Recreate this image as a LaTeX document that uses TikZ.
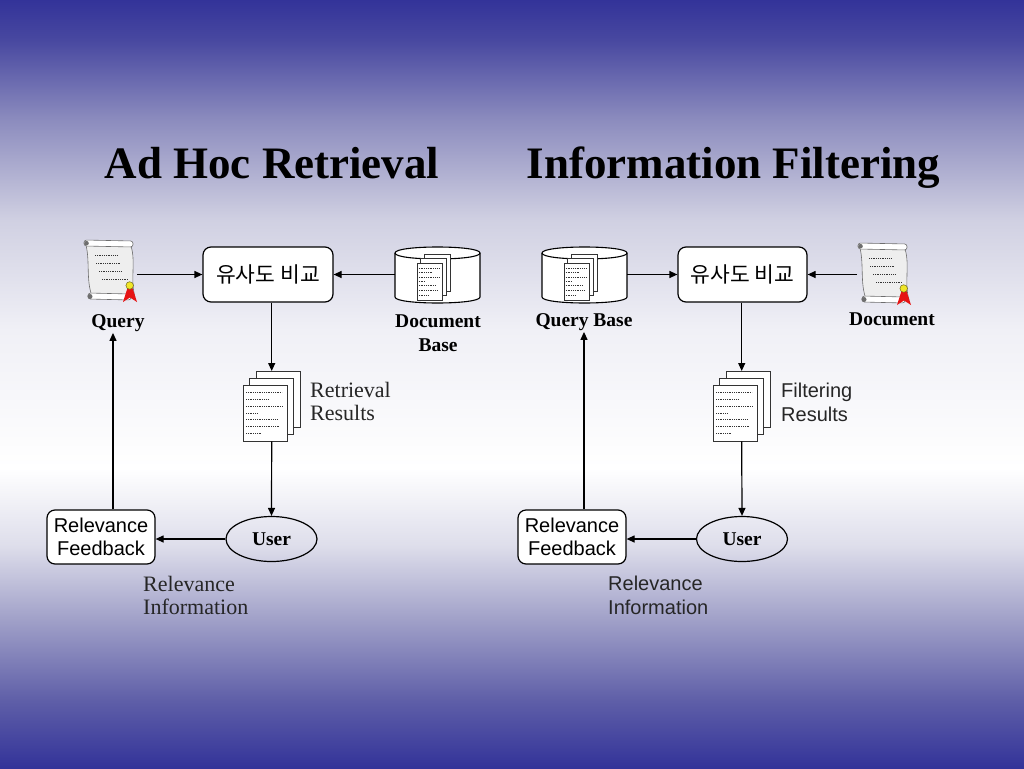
\documentclass[tikz,border=0pt]{standalone}
\usepackage{fontspec}
\setmainfont{Liberation Serif}
\newfontfamily\arialf{Liberation Sans}
\newfontfamily\krf{Noto Sans CJK KR}
\usetikzlibrary{arrows.meta,shapes.geometric,calc}

\definecolor{bgA}{RGB}{51,51,153}
\definecolor{bgB}{RGB}{95,95,168}
\definecolor{bgC}{RGB}{160,160,200}
\definecolor{bgD}{RGB}{222,222,235}
\definecolor{bgE}{RGB}{240,240,246}
\definecolor{bgF}{RGB}{208,208,226}
\definecolor{bgG}{RGB}{140,140,190}
\definecolor{bgH}{RGB}{72,72,160}
\definecolor{scrollfill}{RGB}{238,238,238}
\definecolor{rollgray}{RGB}{110,110,110}
\definecolor{ribbon}{RGB}{230,20,20}
\definecolor{seal}{RGB}{240,230,40}

\pgfdeclareverticalshading{bgshade}{100bp}{color(0bp)=(bgA); color(25bp)=(bgA); color(29.43bp)=(bgB); color(34.64bp)=(bgC); color(39.5bp)=(bgD); color(44.5bp)=(white); color(53.52bp)=(bgE); color(60.68bp)=(bgF); color(67.19bp)=(bgG); color(72.4bp)=(bgH); color(75bp)=(bgA); color(100bp)=(bgA)}

\tikzset{
  arr/.style={line width=1.2pt, -{Triangle[length=8pt,width=7pt]}},
  iconbox/.style={inner sep=0pt, minimum width=#1, anchor=north west},
  cmpbox/.style={draw, line width=1.2pt, rounded corners=8pt, fill=white,
    minimum width=130pt, minimum height=55pt, inner sep=0pt,
    font=\krf\fontsize{21.5}{24}\selectfont},
  fbbox/.style={draw, line width=1.2pt, rounded corners=8pt, fill=white,
    minimum width=108pt, minimum height=54pt, inner sep=0pt, align=center,
    font=\arialf\fontsize{20}{23}\selectfont},
  userell/.style={draw, line width=1.2pt, ellipse, minimum width=91pt,
    minimum height=45pt, inner sep=0pt,
    font=\bfseries\fontsize{19.5}{24}\selectfont},
  lbl/.style={inner sep=0pt, align=center, font=\bfseries\fontsize{19.5}{24}\selectfont},
  sertxt/.style={inner sep=0pt, align=left, text=black!85,
    font=\fontsize{22}{23.5}\selectfont},
  sanstxt/.style={inner sep=0pt, align=left, text=black!85,
    font=\arialf\fontsize{20}{24}\selectfont},
  title/.style={inner sep=0pt, font=\bfseries\fontsize{45}{50}\selectfont},
  page/.style={draw=black!80, fill=white, line width=0.8pt},
  dots/.style={line width=0.7pt, dash pattern=on 0.9pt off 0.9pt, black!80},
}

% scroll icon, 54 x 62, origin top-left
\newcommand\scrollicon{%
  \draw[draw=rollgray, fill=scrollfill, line width=0.6pt]
    (3,5) .. controls (7,22) and (3,40) .. (9,56) -- (52,57)
    .. controls (47,40) and (53,22) .. (48,6) -- cycle;
  \draw[draw=rollgray, fill=white, line width=0.6pt, rounded corners=2.5pt]
    (1,0) -- (50,1) -- (50,7) -- (1,6) -- cycle;
  \fill[rollgray] (3.5,3.2) circle (2.3);
  \draw[draw=rollgray, fill=white, line width=0.6pt, rounded corners=2.5pt]
    (5,53) -- (48,54) -- (48,60) -- (5,59) -- cycle;
  \fill[rollgray] (7,56.5) circle (2.5);
  \draw[dots] (12,15) -- (35,15);
  \draw[dots] (13,23) -- (37,23);
  \draw[dots] (16,31) -- (39,31);
  \draw[dots] (19,39) -- (45,39);
  \fill[ribbon] (40,62) -- (44.5,48) -- (49.5,48) -- (54,62) -- (47,57.5) -- cycle;
  \draw[fill=seal, draw=olive!70!black, line width=0.5pt] (46.7,45.5) circle (3.8);
}

% page stack, 57 x 70, origin top-left
\newcommand\pagestack{%
  \draw[page] (13,0) rectangle (57,56);
  \draw[page] (6.5,7) rectangle (50.5,63);
  \draw[page] (0,14) rectangle (44,70);
  \begin{scope}[shift={(0,14)}]
    \draw[dots] (3,7) -- (39,7);
    \draw[dots] (3,14) -- (25,14);
    \draw[dots] (3,21) -- (40,21);
    \draw[dots] (3,28) -- (14,28);
    \draw[dots] (3,34) -- (34,34);
    \draw[dots] (3,41) -- (37,41);
    \draw[dots] (3,48) -- (19,48);
  \end{scope}
}

% cylinder, 85 x 56, origin top-left
\newcommand\cylicon{%
  \draw[fill=white, line width=1.1pt]
    (0,6) -- (0,50) .. controls (0,58) and (85,58) .. (85,50) -- (85,6)
    .. controls (85,-2) and (0,-2) .. (0,6) -- cycle;
  \draw[line width=1.1pt] (0,6) .. controls (0,14) and (85,14) .. (85,6);
  \begin{scope}[shift={(22,7)}, xscale=0.58, yscale=0.66]
    \pagestack
  \end{scope}
}

\begin{document}
\begin{tikzpicture}[x=1pt, y=-1pt]
\useasboundingbox (0,0) rectangle (1024,768);
\path[shading=bgshade] (0,0) rectangle (1024,768);

% titles
\node[title, anchor=base] (t1) at (272,178) {Ad Hoc Retrieval};
\node[title, anchor=base] (t2) at (733.5,178) {Information Filtering};

% ===== left: Ad Hoc Retrieval =====
\node[iconbox=54pt, minimum height=62pt] (q) at (83,240) {};
\begin{scope}[shift={(q.north west)}] \scrollicon \end{scope}
\node[lbl, anchor=base] (ql) at (118,327) {Query};

\node[cmpbox] (cmp1) at (268,274.5) {유사도 비교};

\node[iconbox=85pt, minimum height=56pt] (db) at (395,247) {};
\begin{scope}[shift={(db.north west)}] \cylicon \end{scope}
\node[lbl, anchor=north] (dbl) at (438,314.5) {Document\\Base};

\node[iconbox=57pt, minimum height=70pt] (rr) at (243,371) {};
\begin{scope}[shift={(rr.north west)}] \pagestack \end{scope}
\node[sertxt, anchor=north west] (rrl) at (310,382) {Retrieval\\Results};

\node[userell] (u1) at (271.5,539) {User};
\node[fbbox] (fb1) at (101,537) {Relevance\\Feedback};
\node[sertxt, anchor=north west] (ri1) at (143,576) {Relevance\\Information};

\draw[arr] (q.east |- cmp1.west) -- (cmp1.west);
\draw[arr] (db.west |- cmp1.east) -- (cmp1.east);
\draw[arr] (cmp1.south -| rr.north) -- (rr.north);
\draw[arr] (rr.south) -- (u1.north);
\draw[arr] (u1.west) -- (fb1.east |- u1.west);
\draw[arr, shorten >=1.5pt] ([xshift=12pt]fb1.north) -- ([xshift=12pt]fb1.north |- ql.south);

% ===== right: Information Filtering =====
\node[iconbox=85pt, minimum height=56pt] (qb) at (542,247) {};
\begin{scope}[shift={(qb.north west)}] \cylicon \end{scope}
\node[lbl, anchor=base] (qbl) at (584,326) {Query Base};

\node[cmpbox, minimum width=129pt] (cmp2) at (742.5,274.5) {유사도 비교};

\node[iconbox=54pt, minimum height=62pt] (d) at (857,243) {};
\begin{scope}[shift={(d.north west)}] \scrollicon \end{scope}
\node[lbl, anchor=base] (dl) at (892,325) {Document};

\node[iconbox=57pt, minimum height=70pt] (fr) at (713,371) {};
\begin{scope}[shift={(fr.north west)}] \pagestack \end{scope}
\node[sanstxt, anchor=north west] (frl) at (781,382.5) {Filtering\\Results};

\node[userell] (u2) at (742,539) {User};
\node[fbbox] (fb2) at (572,537) {Relevance\\Feedback};
\node[sanstxt, anchor=north west] (ri2) at (608,575.5) {Relevance\\Information};

\draw[arr] (qb.east |- cmp2.west) -- (cmp2.west);
\draw[arr] (d.west |- cmp2.east) -- (cmp2.east);
\draw[arr] (cmp2.south -| fr.north) -- (fr.north);
\draw[arr] (fr.south) -- (u2.north);
\draw[arr] (u2.west) -- (fb2.east |- u2.west);
\draw[arr, shorten >=1.5pt] ([xshift=12pt]fb2.north) -- ([xshift=12pt]fb2.north |- qbl.south);
\end{tikzpicture}
\end{document}
